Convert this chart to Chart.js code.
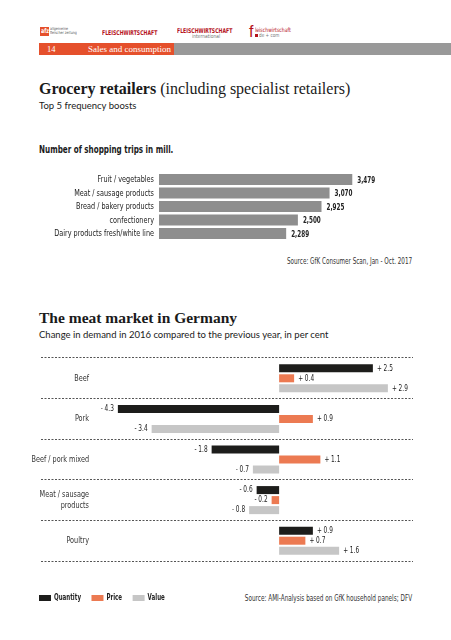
<!DOCTYPE html>
<html><head><meta charset="utf-8">
<script src="https://cdn.jsdelivr.net/npm/chart.js@4"></script>
<style>
html,body{margin:0;padding:0;background:#fff;}
body{width:451px;height:640px;position:relative;overflow:hidden;}
.t{position:absolute;white-space:nowrap;}
.serif{font-family:"Liberation Serif","DejaVu Serif",serif;color:#1a1a1a;}
.sans{font-family:Lato,"Open Sans",sans-serif;color:#1a1a1a;}
.cond{font-family:"DejaVu Sans Condensed","DejaVu Sans",sans-serif;color:#222;}
.sqL{transform-origin:left center;}
.sqR{transform-origin:right center;}
canvas{position:absolute;left:0;}
</style></head>
<body>
<!-- header logos -->
<div class="t" style="left:40px;top:27px;width:9px;height:9px;background:#e5502c;"></div>
<div class="t cond sqL" style="left:40.5px;top:27px;font-size:6.5px;line-height:9px;color:#fff;font-weight:bold;transform:scaleX(0.8);">afz</div>
<div class="t cond sqL" style="left:50px;top:26.5px;font-size:4px;line-height:4.5px;color:#555;transform:scaleX(0.9);">allgemeine<br>fleischer zeitung</div>
<div class="t cond sqL" style="left:102px;top:29px;font-size:6.5px;line-height:8px;color:#b5121b;font-weight:bold;transform:scaleX(0.79);">FLEISCHWIRTSCHAFT</div>
<div class="t cond sqL" style="left:177px;top:27.5px;font-size:6.5px;line-height:7px;color:#b5121b;font-weight:bold;transform:scaleX(0.79);">FLEISCHWIRTSCHAFT</div>
<div class="t cond sqL" style="left:192px;top:33.5px;font-size:5.5px;line-height:5px;color:#777;transform:scaleX(0.9);">international</div>
<div class="t" style="left:249px;top:24px;font-size:16px;line-height:15px;color:#b5121b;font-family:'Liberation Sans',sans-serif;">f</div>
<div class="t cond sqL" style="left:255px;top:26.5px;font-size:6px;line-height:6px;color:#b5121b;transform:scaleX(0.85);">leischwirtschaft</div>
<div class="t" style="left:255px;top:33.5px;width:3px;height:3px;background:#b5121b;"></div>
<div class="t cond sqL" style="left:259px;top:31.5px;font-size:5.5px;line-height:6px;color:#777;transform:scaleX(0.85);">de + com</div>
<div class="t" style="left:39px;top:43px;width:135px;height:12px;background:#e5502c;"></div>
<div class="t" style="left:174px;top:43px;width:277px;height:12px;background:#999999;"></div>
<div class="t serif" style="left:47px;top:43px;font-size:8.5px;line-height:12px;color:#fff;">14</div>
<div class="t serif" style="left:88px;top:43px;font-size:9px;line-height:12px;color:#fff;">Sales and consumption</div>

<div class="t serif" style="left:39px;top:81px;font-size:16px;line-height:16px;"><b>Grocery retailers</b> (including specialist retailers)</div>
<div class="t sans" style="left:39px;top:100px;font-size:9.5px;line-height:12px;">Top 5 frequency boosts</div>
<div class="t cond sqL" style="left:39px;top:144px;font-size:10px;line-height:12px;font-weight:bold;color:#1a1a1a;transform:scaleX(0.8);">Number of shopping trips in mill.</div>
<div class="t cond sqR" style="right:39px;top:255px;font-size:8.5px;line-height:12px;color:#333;transform:scaleX(0.74);">Source: GfK Consumer Scan, Jan - Oct. 2017</div>

<div class="t serif" style="left:39px;top:310px;font-size:15.5px;line-height:16px;"><b>The meat market in Germany</b></div>
<div class="t sans" style="left:39px;top:329px;font-size:9.5px;line-height:12px;">Change in demand in 2016 compared to the previous year, in per cent</div>
<div class="t cond sqR" style="right:39px;top:592px;font-size:8.5px;line-height:12px;color:#333;transform:scaleX(0.75);">Source: AMI-Analysis based on GfK household panels; DFV</div>

<canvas id="c1" width="451" height="85" style="top:165px;width:451px;height:85px;"></canvas>
<canvas id="c2" width="451" height="265" style="top:350px;width:451px;height:265px;"></canvas>

<script>
// ---- data: chart 1 ----
const tripCategories = ["Fruit / vegetables", "Meat / sausage products", "Bread / bakery products", "confectionery", "Dairy products fresh/white line"];
const tripValues = [3479, 3070, 2925, 2500, 2289];

// ---- data: chart 2 ----
const meatCategories = [["Beef"], ["Pork"], ["Beef / pork mixed"], ["Meat / sausage", "products"], ["Poultry"]];
const seriesNames = ["Quantity", "Price", "Value"];
const quantityValues = [2.5, -4.3, -1.8, -0.6, 0.9];
const priceValues = [0.4, 0.9, 1.1, -0.2, 0.7];
const valueValues = [2.9, -3.4, -0.7, -0.8, 1.6];

const COND = '"DejaVu Sans Condensed","DejaVu Sans",sans-serif';

function condText(ctx, txt, x, y, align, sx) {
  ctx.save();
  ctx.translate(x, y);
  ctx.scale(sx, 1);
  ctx.textAlign = align;
  ctx.fillText(txt, 0, 0);
  const w = ctx.measureText(txt).width * sx;
  ctx.restore();
  return w;
}

const tripLabelPlugin = {
  id: 'tripLabels',
  afterDatasetsDraw(chart) {
    const ctx = chart.ctx;
    const ys = chart.scales.y;
    const meta = chart.getDatasetMeta(0);
    ctx.save();
    ctx.textBaseline = 'middle';
    ctx.fillStyle = '#222';
    ctx.font = '9.5px ' + COND;
    chart.data.labels.forEach((lab, i) => {
      condText(ctx, lab, ys.right - 5, ys.getPixelForValue(i) + 0.5, 'right', 0.76);
    });
    ctx.font = 'bold 9px ' + COND;
    meta.data.forEach((bar, i) => {
      condText(ctx, tripValues[i].toLocaleString('en-US'), bar.x + 5, bar.y + 1, 'left', 0.7);
    });
    ctx.restore();
  }
};

new Chart(document.getElementById('c1'), {
  type: 'bar',
  data: {
    labels: tripCategories,
    datasets: [{ data: tripValues, backgroundColor: '#8e8e8e', borderWidth: 0, barPercentage: 0.82, categoryPercentage: 1.0 }]
  },
  options: {
    indexAxis: 'y', responsive: false, animation: false,
    layout: { padding: { top: 7.75, bottom: 9.75, left: 0, right: 42 } },
    plugins: { legend: { display: false }, tooltip: { enabled: false } },
    scales: {
      x: { display: false, min: 0, max: 4500 },
      y: {
        grid: { display: false, drawTicks: false }, border: { display: false },
        ticks: { display: false, autoSkip: false },
        afterFit(s) { s.width = 159; }
      }
    }
  },
  plugins: [tripLabelPlugin]
});

const meatLabelPlugin = {
  id: 'meatLabels',
  afterDatasetsDraw(chart) {
    const ctx = chart.ctx;
    const ys = chart.scales.y;
    ctx.save();
    ctx.font = '9.5px ' + COND;
    ctx.fillStyle = '#333';
    ctx.textBaseline = 'middle';
    // category labels
    meatCategories.forEach((lines, i) => {
      const cy = ys.getPixelForValue(i);
      const lh = 10.5;
      lines.forEach((ln, k) => {
        condText(ctx, ln, 89, cy + (k - (lines.length - 1) / 2) * lh, 'right', 0.76);
      });
    });
    // value labels
    ctx.font = '9px ' + COND;
    ctx.fillStyle = '#222';
    chart.data.datasets.forEach((ds, di) => {
      const meta = chart.getDatasetMeta(di);
      meta.data.forEach((bar, i) => {
        const v = ds.data[i];
        const txt = (v >= 0 ? '+ ' : '- ') + Math.abs(v).toFixed(1);
        if (v >= 0) condText(ctx, txt, bar.x + 4, bar.y, 'left', 0.72);
        else condText(ctx, txt, bar.x - 4, bar.y, 'right', 0.72);
      });
    });
    // legend (drawn from the datasets)
    let x = 39;
    const ly = 248;
    ctx.font = 'bold 9px ' + COND;
    chart.data.datasets.forEach((ds) => {
      ctx.fillStyle = ds.backgroundColor;
      ctx.fillRect(x, ly - 3, 12, 6);
      ctx.fillStyle = '#222';
      const w = condText(ctx, ds.label, x + 15, ly, 'left', 0.68);
      x += 15 + w + 10.5;
    });
    ctx.restore();
  }
};

new Chart(document.getElementById('c2'), {
  type: 'bar',
  data: {
    labels: meatCategories.map(l => l.join(' ')),
    datasets: [
      { label: seriesNames[0], data: quantityValues, backgroundColor: '#1d1d1b' },
      { label: seriesNames[1], data: priceValues, backgroundColor: '#ec7a52' },
      { label: seriesNames[2], data: valueValues, backgroundColor: '#c6c6c6' }
    ]
  },
  options: {
    indexAxis: 'y', responsive: false, animation: false,
    datasets: { bar: { borderWidth: 0, categoryPercentage: 0.74, barPercentage: 0.8 } },
    layout: { padding: { top: 8, bottom: 54, left: 29, right: 38 } },
    plugins: { tooltip: { enabled: false }, legend: { display: false } },
    scales: {
      x: { display: false, min: -6.35, max: 3.57 },
      y: {
        grid: { color: '#555', lineWidth: 1, drawTicks: false, offset: true },
        border: { display: false, dash: [2, 1.5] },
        ticks: { display: false },
        afterFit(s) { s.width = 12; }
      }
    }
  },
  plugins: [meatLabelPlugin]
});
</script>
</body></html>
